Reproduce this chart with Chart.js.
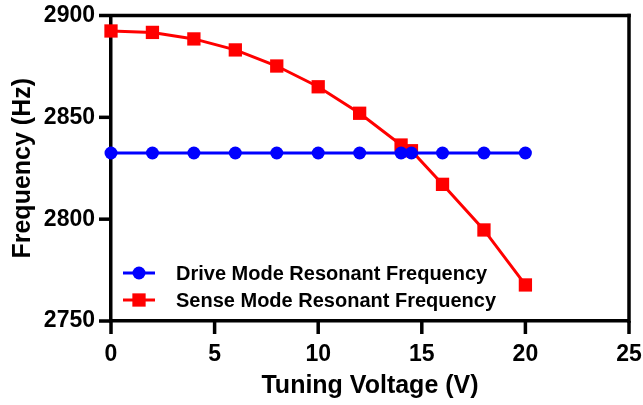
<!DOCTYPE html>
<html>
<head>
<meta charset="utf-8">
<script src="https://cdn.jsdelivr.net/npm/chart.js@4/dist/chart.umd.min.js"></script>
<style>
	html, body { margin: 0; padding: 0; background: #fff; }
	#wrap { width: 643px; height: 405px; }
</style>
</head>
<body>
<div id="wrap"><canvas id="chart" width="643" height="405"></canvas></div>
<script>
// ----------------------------------------------------------------------
const voltage = [0, 2, 4, 6, 8, 10, 12, 14, 14.5, 16, 18, 20]
const drive_freq = [2832.5, 2832.5, 2832.5, 2832.5, 2832.5, 2832.5, 2832.5, 2832.5, 2832.5, 2832.5, 2832.5, 2832.5]
const sense_freq = [2892.4, 2891.7, 2888.5, 2883.1, 2875.2, 2865.0, 2852.0, 2836.4, 2833.6, 2817.1, 2794.7, 2767.7]
const x_ticks = [0, 5, 10, 15, 20, 25]
const y_ticks = [2750, 2800, 2850, 2900]
const label_drive = "Drive Mode Resonant Frequency"
const label_sense = "Sense Mode Resonant Frequency"

const font_name = "'Liberation Sans', Arial, sans-serif"

// ----------------------------------------------------------------------
function to_points(xx, yy)
{
	var points = []
	for (var it = 0; it < xx.length; it += 1)
		{
		points.push({x: xx[it], y: yy[it]})
		}
	return points
}

// ----------------------------------------------------------------------
// tick marks outside, box on top and right, legend inside the plot
const frame_legend = {
	id: 'frame_legend',
	afterDraw(chart)
	{
	const ctx = chart.ctx
	const area = chart.chartArea
	const sx = chart.scales['x']
	const sy = chart.scales['y']
	ctx.save()
	ctx.fillStyle = '#000000'
	for (var it = 0; it < x_ticks.length; it += 1)
		{
		const px = sx.getPixelForValue(x_ticks[it])
		ctx.fillRect(px - 1.75, area.bottom, 3.5, 13)
		}
	for (var it = 0; it < y_ticks.length; it += 1)
		{
		const py = sy.getPixelForValue(y_ticks[it])
		ctx.fillRect(area.left - 12, py - 1.75, 12, 3.5)
		}

	// top and right side of the box
	ctx.fillRect(area.left, area.top - 1.75, area.right - area.left + 1.75, 3.5)
	ctx.fillRect(area.right - 1.75, area.top - 1.75, 3.5, area.bottom - area.top + 3.5)

	const sets = chart.data.datasets
	for (var it = 0; it < sets.length; it += 1)
		{
		const ds = sets[it]
		const yy = area.bottom - 48 + it * 27
		const x0 = area.left + 12
		ctx.strokeStyle = ds.borderColor
		ctx.lineWidth = 3
		ctx.beginPath()
		ctx.moveTo(x0, yy)
		ctx.lineTo(x0 + 32, yy)
		ctx.stroke()
		ctx.fillStyle = ds.backgroundColor
		Chart.helpers.drawPoint(ctx, {pointStyle: ds.pointStyle, radius: ds.pointRadius,
			borderWidth: 0}, x0 + 16, yy)
		ctx.fillStyle = 'black'
		ctx.font = "bold 20px " + font_name
		ctx.textBaseline = 'middle'
		ctx.textAlign = 'left'
		ctx.fillText(ds.label, x0 + 53, yy + 1)
		}
	ctx.restore()
	}
}

// ----------------------------------------------------------------------
function prog01()
{
	const graph_data = {
		datasets: [
			{ label: label_drive, data: to_points(voltage, drive_freq),
			  borderColor: '#0000ff', backgroundColor: '#0000ff', borderWidth: 3,
			  pointStyle: 'circle', pointRadius: 6.5, pointBorderWidth: 0, pointHoverRadius: 6.5,
			  clip: false },
			{ label: label_sense, data: to_points(voltage, sense_freq),
			  borderColor: '#ff0000', backgroundColor: '#ff0000', borderWidth: 3,
			  pointStyle: 'rect', pointRadius: 9.4, pointBorderWidth: 0, pointHoverRadius: 9.4,
			  clip: false }
			]
		}

	const tick_font = { family: font_name, size: 23, weight: 'bold' }
	const title_font = { family: font_name, size: 25, weight: 'bold' }

	const options = {
		responsive: false,
		animation: false,
		layout: { padding: { left: 0, right: 14, top: 15.5, bottom: 0 } },
		plugins: { legend: { display: false }, tooltip: { enabled: false } },
		scales: {
			x: {
				type: 'linear', min: 0, max: 25,
				afterBuildTicks: function (scale) { scale.ticks = x_ticks.map(v => ({value: v})) },
				afterFit: function (scale)
					{
					scale.height = 84
					scale.paddingLeft = 0
					scale.paddingRight = 0
					},
				ticks: { color: 'black', font: tick_font, padding: 8,
					callback: function (v) { return String(v) } },
				grid: { display: false, drawTicks: true, tickLength: 12 },
				border: { display: true, color: 'black', width: 3.5 },
				title: { display: true, text: 'Tuning Voltage (V)', color: 'black',
					font: title_font, padding: { top: 0, bottom: 4 } }
				},
			y: {
				type: 'linear', min: 2750, max: 2900,
				afterBuildTicks: function (scale) { scale.ticks = y_ticks.map(v => ({value: v})) },
				afterFit: function (scale)
					{
					scale.width = 111
					scale.paddingTop = 0
					scale.paddingBottom = 0
					},
				ticks: { color: 'black', font: tick_font, padding: 5,
					callback: function (v) { return String(v) } },
				grid: { display: false, drawTicks: true, tickLength: 11 },
				border: { display: true, color: 'black', width: 3.5 },
				title: { display: true, text: 'Frequency (Hz)', color: 'black',
					font: title_font, padding: { top: 8, bottom: 0 } }
				}
			}
		}

	const config = {
		type: 'line',
		data: graph_data,
		options: options,
		plugins: [frame_legend]
		}

	const context = document.getElementById("chart")
	const chart = new Chart(context, config)
}

prog01()
// ----------------------------------------------------------------------
</script>
</body>
</html>
